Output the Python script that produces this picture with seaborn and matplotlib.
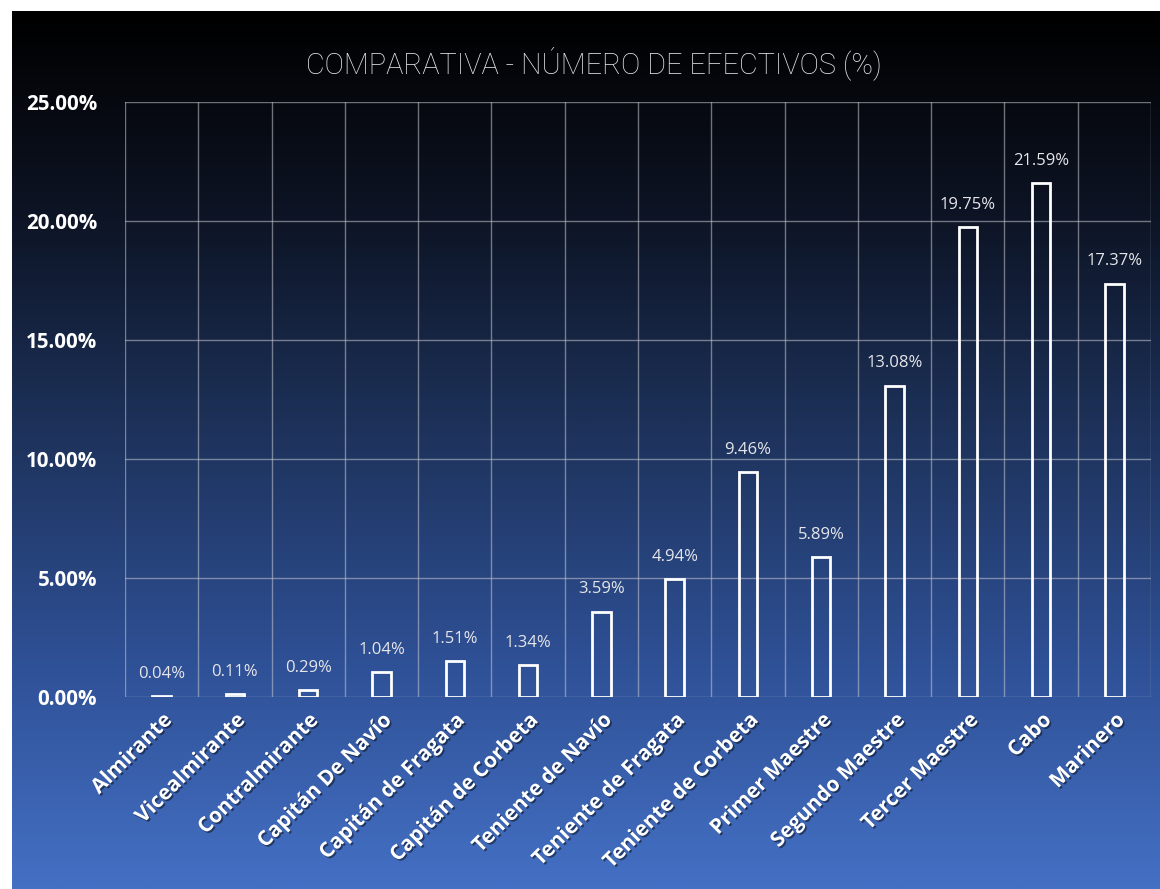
import numpy as np
import pandas as pd
import matplotlib
matplotlib.use("Agg")
import matplotlib.pyplot as plt
import matplotlib.patheffects as pe
from matplotlib.colors import LinearSegmentedColormap
import seaborn as sns

categories = ["Almirante", "Vicealmirante", "Contralmirante", "Capitán De Navío",
              "Capitán de Fragata", "Capitán de Corbeta", "Teniente de Navío",
              "Teniente de Fragata", "Teniente de Corbeta", "Primer Maestre",
              "Segundo Maestre", "Tercer Maestre", "Cabo", "Marinero"]
values = [0.04, 0.11, 0.29, 1.04, 1.51, 1.34, 3.59, 4.94, 9.46, 5.89,
          13.08, 19.75, 21.59, 17.37]
yticks = [0, 5, 10, 15, 20, 25]
title = "COMPARATIVA - NÚMERO DE EFECTIVOS (%)"

df = pd.DataFrame({"cat": categories, "val": values})

sns.set_theme(style="white")
plt.rcParams['font.family'] = ['Open Sans', 'DejaVu Sans']

W, H = 1160, 889
fig = plt.figure(figsize=(W / 100, H / 100), dpi=100, facecolor="white")

# background gradient panel
bg = fig.add_axes([12 / W, 0, 1 - 12 / W, 1 - 11 / H])
cmap = LinearSegmentedColormap.from_list(
    "bg", [(0.0, "#000000"), (0.12, "#070a12"), (0.25, "#0e1628"),
           (0.5, "#1f3560"), (0.75, "#2f5197"), (1.0, "#4470c4")])
grad = np.linspace(0, 1, 512).reshape(-1, 1)
bg.imshow(grad, aspect="auto", cmap=cmap, extent=[0, 1, 0, 1], origin="upper")
bg.set_axis_off()

ax = fig.add_axes([125 / W, 1 - 697 / H, (1151 - 125) / W, (697 - 102) / H])
ax.set_facecolor("none")
sns.barplot(data=df, x="cat", y="val", ax=ax, color="white", fill=False,
            width=0.25, linewidth=2, order=categories)
for p in ax.patches:
    p.set_edgecolor("white")
    p.set_facecolor("none")
    p.set_zorder(3)

ax.set_xlim(-0.5, len(categories) - 0.5)
ax.set_ylim(0, 25)
ax.set_yticks(yticks)
ax.set_yticklabels([f"{v:.2f}%" for v in yticks], fontsize=14.8,
                   fontweight="bold", color="white")
ax.set_xticks(range(len(categories)))
ax.set_xticklabels(categories, rotation=45, ha="right", rotation_mode="anchor",
                   fontsize=15, fontweight="bold", color="white")
shadow = [pe.withSimplePatchShadow(offset=(1.2, -1.2), shadow_rgbFace="black", alpha=0.45)]
for t in ax.get_xticklabels():
    t.set_path_effects(shadow)
ax.set_xticks(np.arange(-0.5, len(categories), 1), minor=True)
ax.tick_params(axis="x", which="both", length=0, pad=9)
ax.tick_params(axis="y", length=0, pad=20)
ax.grid(False)
ax.grid(axis="y", which="major", color="#c8c8d0", alpha=0.55, lw=1)
ax.grid(axis="x", which="minor", color="#c8c8d0", alpha=0.55, lw=1)
for s in ax.spines.values():
    s.set_visible(False)
ax.set_xlabel("")
ax.set_ylabel("")
ax.set_axisbelow(True)

for i, v in enumerate(values):
    ax.annotate(f"{v:.2f}%", (i, v), xytext=(0, 16), textcoords="offset points",
                ha="center", va="center", fontsize=12, color="#e6e6ea", zorder=4)

fig.text(594 / W, 1 - 63 / H, title, ha="center", va="center", fontsize=20.8,
         color="#e6e6ee", family=["Roboto", "DejaVu Sans"], fontweight="light")

fig.savefig("out.png", dpi=100, facecolor="white")
